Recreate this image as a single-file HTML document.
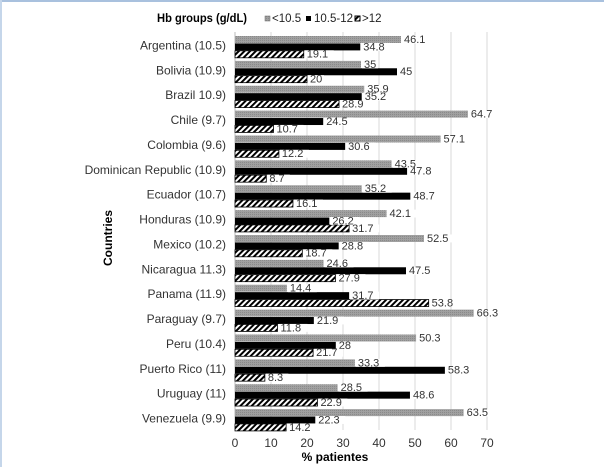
<!DOCTYPE html>
<html><head><meta charset="utf-8"><style>
html,body{margin:0;padding:0;background:#fff}
svg{display:block;font-family:"Liberation Sans",sans-serif}
</style></head><body>
<svg id="chart" width="604" height="467" viewBox="0 0 604 467">
<defs>
<pattern id="hatch" patternUnits="userSpaceOnUse" width="4" height="4" patternTransform="rotate(45)">
<rect width="4" height="4" fill="#fff"/><rect width="2" height="4" fill="#000"/>
</pattern>
<pattern id="dots" patternUnits="userSpaceOnUse" width="2" height="2">
<rect width="2" height="2" fill="#a0a0a0"/><rect width="1" height="1" fill="#8a8a8a"/>
</pattern>
</defs>
<rect x="0" y="0" width="604" height="2" fill="#a9c1de"/>
<rect x="0" y="0" width="2" height="467" fill="#c5d6ea"/>
<text x="157" y="22" font-size="12" font-weight="bold" fill="#000" textLength="90" lengthAdjust="spacingAndGlyphs">Hb groups (g/dL)</text>
<g>
<rect x="265" y="16" width="5" height="5" fill="url(#dots)" stroke="#666" stroke-width="0.5"/>
<text x="272" y="22" font-size="11.5" fill="#222">&lt;10.5</text>
<rect x="306" y="16" width="5" height="5" fill="#000"/>
<text x="314" y="22" font-size="11.5" fill="#222">10.5-12</text>
<rect x="355" y="16" width="5" height="5" fill="url(#hatch)" stroke="#000" stroke-width="1"/>
<text x="362" y="22" font-size="11.5" fill="#222">&gt;12</text>
</g>
<g id="grid"></g>
<g id="bars"></g>
<g id="labels"></g>
<text x="0" y="0" font-size="12" font-weight="bold" transform="translate(112,238) rotate(-90)" text-anchor="middle">Countries</text>
<text x="335" y="461" font-size="12" font-weight="bold" text-anchor="middle">% patientes</text>
</svg>
<script>
const categories=["Argentina (10.5)","Bolivia (10.9)","Brazil 10.9)","Chile (9.7)","Colombia (9.6)","Dominican Republic (10.9)","Ecuador (10.7)","Honduras (10.9)","Mexico (10.2)","Nicaragua 11.3)","Panama (11.9)","Paraguay (9.7)","Peru (10.4)","Puerto Rico (11)","Uruguay (11)","Venezuela (9.9)"];
const lowValues=[46.1,35,35.9,64.7,57.1,43.5,35.2,42.1,52.5,24.6,14.4,66.3,50.3,33.3,28.5,63.5];
const midValues=[34.8,45,35.2,24.5,30.6,47.8,48.7,26.2,28.8,47.5,31.7,21.9,28,58.3,48.6,22.3];
const highValues=[19.1,20,28.9,10.7,12.2,8.7,16.1,31.7,18.7,27.9,53.8,11.8,21.7,8.3,22.9,14.2];
const xTicks=[0,10,20,30,40,50,60,70];
const NS="http://www.w3.org/2000/svg";
const plotX0=235,plotX1=487,plotTop=32,plotBottom=430;
const xs=v=>plotX0+(v-0)/70*(plotX1-plotX0);
const band=(plotBottom-plotTop)/categories.length;
const bh=7.4;
function mk(tag,attrs,parent){const e=document.createElementNS(NS,tag);for(const k in attrs)e.setAttribute(k,attrs[k]);parent.appendChild(e);return e;}
const grid=document.getElementById('grid'),bars=document.getElementById('bars'),labels=document.getElementById('labels');
xTicks.forEach(t=>{
 const l=mk('line',{x1:xs(t),x2:xs(t),y1:plotTop,y2:plotBottom,stroke:t===0?'#bbb':'#d9d9d9','stroke-width':1},grid);
 
 
 const tx=mk('text',{x:xs(t),y:447,'font-size':12,'text-anchor':'middle',fill:'#333'},grid);
 tx.textContent=t;
 
 
});
const series=[[lowValues,'url(#dots)','low'],[midValues,'#000','mid'],[highValues,'url(#hatch)','high']];
categories.forEach((c,i)=>{
 const by=plotTop+i*band+4;
 const ct=mk('text',{x:226,y:plotTop+i*band+band/2+5,'font-size':12,'text-anchor':'end',fill:'#333'},labels);
 ct.textContent=c;
 
 
 series.forEach((s,j)=>{
  const v=s[0][i];const y=by+j*bh;
  const r=mk('rect',{x:plotX0,y:y,width:xs(v)-plotX0,height:bh-0.4,fill:s[1],stroke:j===2?'#000':'none','stroke-width':0.8},bars);
  
  
  const lbg=mk('rect',{x:xs(v)+1,y:y-0.5,width:String(v).length*6.5+3,height:bh+0.5,fill:'#fff'},labels);
  
  
  const t=mk('text',{x:xs(v)+3,y:y+bh-0.5,'font-size':11,fill:'#333'},labels);
  t.textContent=v;
  
  
 });
});
</script>
</body></html>
